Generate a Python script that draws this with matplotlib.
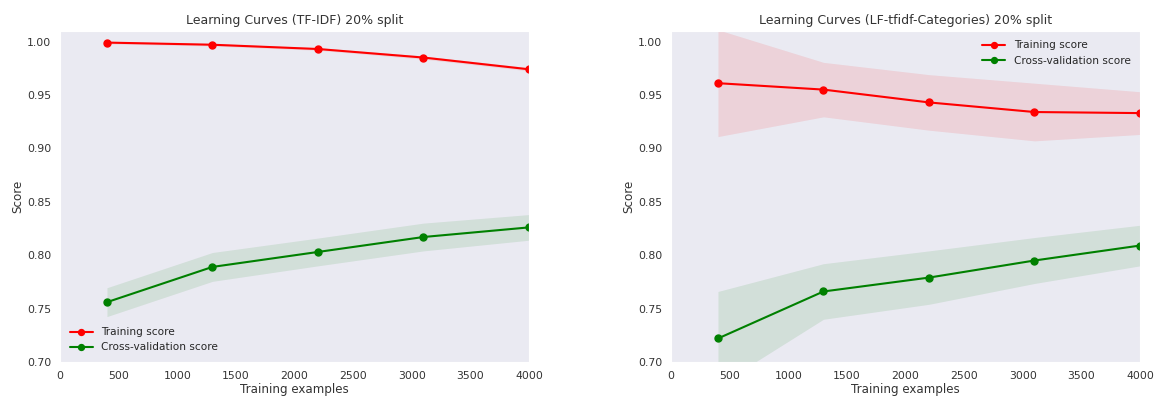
import numpy as np
import matplotlib
matplotlib.use("Agg")
import matplotlib.pyplot as plt
import seaborn as sns

sns.set_style("dark")
plt.rcParams['font.family'] = ['DejaVu Sans']

train_sizes = [400, 1300, 2200, 3100, 4000]

# TF-IDF model
tfidf_train_mean = [0.999, 0.997, 0.993, 0.985, 0.974]
tfidf_train_std = [0.0012, 0.0012, 0.0012, 0.0015, 0.0015]
tfidf_cv_mean = [0.756, 0.789, 0.803, 0.817, 0.826]
tfidf_cv_std = [0.0135, 0.0135, 0.013, 0.013, 0.012]

# LF-tfidf-Categories model
cat_train_mean = [0.961, 0.955, 0.943, 0.934, 0.933]
cat_train_std = [0.050, 0.0255, 0.026, 0.027, 0.020]
cat_cv_mean = [0.722, 0.766, 0.779, 0.795, 0.809]
cat_cv_std = [0.044, 0.026, 0.025, 0.0215, 0.019]

titles = ["Learning Curves (TF-IDF) 20% split",
          "Learning Curves (LF-tfidf-Categories) 20% split"]
legend_locs = ["lower left", "upper right"]

fig = plt.figure(figsize=(11.55, 3.98), dpi=100)
ax1 = fig.add_axes([0.052, 0.0905, 0.406, 0.832])
ax2 = fig.add_axes([0.581, 0.0905, 0.406, 0.832])

panels = [
    (ax1, tfidf_train_mean, tfidf_train_std, tfidf_cv_mean, tfidf_cv_std),
    (ax2, cat_train_mean, cat_train_std, cat_cv_mean, cat_cv_std),
]

x = np.array(train_sizes)
for i, (ax, tm, ts, cm, cs) in enumerate(panels):
    tm, ts, cm, cs = map(np.array, (tm, ts, cm, cs))
    ax.fill_between(x, tm - ts, tm + ts, alpha=0.1, color="r", lw=0)
    ax.fill_between(x, cm - cs, cm + cs, alpha=0.1, color="g", lw=0)
    ax.plot(x, tm, 'o-', color="r", label="Training score", markersize=5, lw=1.5)
    ax.plot(x, cm, 'o-', color="g", label="Cross-validation score", markersize=5, lw=1.5)
    ax.set_xlim(0, 4000)
    ax.set_ylim(0.70, 1.01)
    ax.set_xticks(np.arange(0, 4001, 500))
    ax.set_yticks(np.arange(0.70, 1.001, 0.05))
    ax.yaxis.set_major_formatter(matplotlib.ticker.FormatStrFormatter('%.2f'))
    ax.tick_params(labelsize=7.8, colors="#333333", pad=3)
    ax.set_title(titles[i], fontsize=9, color="#333333", pad=5)
    ax.set_xlabel("Training examples", fontsize=8.6, color="#333333", labelpad=1.5)
    ax.set_ylabel("Score", fontsize=8.6, color="#333333", labelpad=2)
    ax.legend(loc=legend_locs[i], fontsize=7.6, frameon=False,
              handlelength=2.2, markerscale=0.85)

fig.savefig("out.png", dpi=100)
